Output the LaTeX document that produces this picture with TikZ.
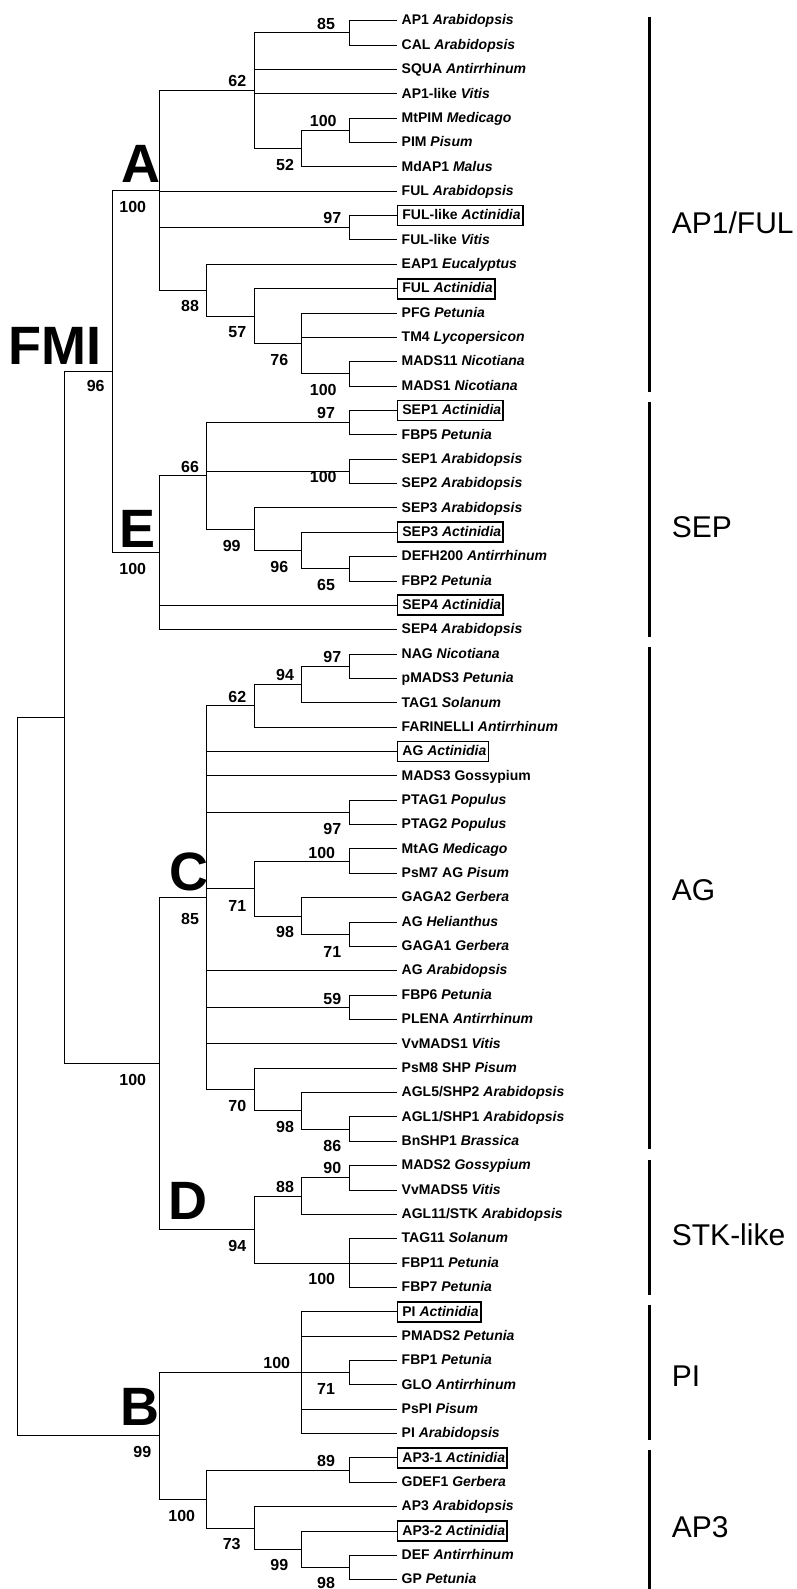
\documentclass[tikz,border=0pt]{standalone}
\usepackage{fontspec}
\setmainfont{Liberation Sans}
\tikzstyle{leaf} = [anchor=west, inner xsep=2pt, inner ysep=2.25pt, text height=12pt, text depth=3.5pt, font=\fontsize{14}{16}\selectfont\bfseries, execute at begin node={\hspace*{3pt}}]
\tikzstyle{boxed} = [leaf, draw, line width=1.8pt]
\tikzstyle{bs} = [inner sep=0pt, font=\fontsize{16}{18}\selectfont\bfseries]
\tikzstyle{clade} = [inner sep=0pt, font=\fontsize{54}{54}\selectfont\bfseries]
\tikzstyle{group} = [anchor=base west, inner sep=0pt, font=\fontsize{30}{30}\selectfont]
\tikzstyle{tree} = [line width=1pt]
\tikzstyle{bar} = [line width=3pt]
\newcommand{\species}[1]{\textit{#1}}

\begin{document}
\begin{tikzpicture}[x=1pt, y=-1pt]
  \useasboundingbox (0,0) rectangle (797,1589);

  \node[leaf] (ap1) at (396.5,20.7) {AP1 \species{Arabidopsis}};
  \node[leaf] (cal) at (396.5,45.1) {CAL \species{Arabidopsis}};
  \node[leaf] (squa) at (396.5,69.4) {SQUA \species{Antirrhinum}};
  \node[leaf] (ap1vv) at (396.5,93.8) {AP1-like \species{Vitis}};
  \node[leaf] (mtpim) at (396.5,118.1) {MtPIM \species{Medicago}};
  \node[leaf] (pim) at (396.5,142.5) {PIM \species{Pisum}};
  \node[leaf] (mdap1) at (396.5,166.9) {MdAP1 \species{Malus}};
  \node[leaf] (fulat) at (396.5,191.2) {FUL \species{Arabidopsis}};
  \node[boxed] (fullac) at (396.5,215.6) {FUL-like \species{Actinidia}};
  \node[leaf] (fullvv) at (396.5,239.9) {FUL-like \species{Vitis}};
  \node[leaf] (eap1) at (396.5,264.3) {EAP1 \species{Eucalyptus}};
  \node[boxed] (fulac) at (396.5,288.7) {FUL \species{Actinidia}};
  \node[leaf] (pfg) at (396.5,313.0) {PFG \species{Petunia}};
  \node[leaf] (tm4) at (396.5,337.4) {TM4 \species{Lycopersicon}};
  \node[leaf] (mads11) at (396.5,361.7) {MADS11 \species{Nicotiana}};
  \node[leaf] (mads1) at (396.5,386.1) {MADS1 \species{Nicotiana}};
  \node[boxed] (sep1ac) at (396.5,410.5) {SEP1 \species{Actinidia}};
  \node[leaf] (fbp5) at (396.5,434.8) {FBP5 \species{Petunia}};
  \node[leaf] (sep1at) at (396.5,459.2) {SEP1 \species{Arabidopsis}};
  \node[leaf] (sep2at) at (396.5,483.5) {SEP2 \species{Arabidopsis}};
  \node[leaf] (sep3at) at (396.5,507.9) {SEP3 \species{Arabidopsis}};
  \node[boxed] (sep3ac) at (396.5,532.3) {SEP3 \species{Actinidia}};
  \node[leaf] (defh200) at (396.5,556.6) {DEFH200 \species{Antirrhinum}};
  \node[leaf] (fbp2) at (396.5,581.0) {FBP2 \species{Petunia}};
  \node[boxed] (sep4ac) at (396.5,605.3) {SEP4 \species{Actinidia}};
  \node[leaf] (sep4at) at (396.5,629.7) {SEP4 \species{Arabidopsis}};
  \node[leaf] (nag) at (396.5,654.1) {NAG \species{Nicotiana}};
  \node[leaf] (pmads3) at (396.5,678.4) {pMADS3 \species{Petunia}};
  \node[leaf] (tag1) at (396.5,702.8) {TAG1 \species{Solanum}};
  \node[leaf] (far) at (396.5,727.1) {FARINELLI \species{Antirrhinum}};
  \node[boxed] (agac) at (396.5,751.5) {AG \species{Actinidia}};
  \node[leaf] (mads3) at (396.5,775.9) {MADS3 Gossypium};
  \node[leaf] (ptag1) at (396.5,800.2) {PTAG1 \species{Populus}};
  \node[leaf] (ptag2) at (396.5,824.6) {PTAG2 \species{Populus}};
  \node[leaf] (mtag) at (396.5,848.9) {MtAG \species{Medicago}};
  \node[leaf] (psm7) at (396.5,873.3) {PsM7 AG \species{Pisum}};
  \node[leaf] (gaga2) at (396.5,897.7) {GAGA2 \species{Gerbera}};
  \node[leaf] (aghe) at (396.5,922.0) {AG \species{Helianthus}};
  \node[leaf] (gaga1) at (396.5,946.4) {GAGA1 \species{Gerbera}};
  \node[leaf] (agat) at (396.5,970.7) {AG \species{Arabidopsis}};
  \node[leaf] (fbp6) at (396.5,995.1) {FBP6 \species{Petunia}};
  \node[leaf] (plena) at (396.5,1019.5) {PLENA \species{Antirrhinum}};
  \node[leaf] (vvmads1) at (396.5,1043.8) {VvMADS1 \species{Vitis}};
  \node[leaf] (psm8) at (396.5,1068.2) {PsM8 SHP \species{Pisum}};
  \node[leaf] (agl5) at (396.5,1092.5) {AGL5/SHP2 \species{Arabidopsis}};
  \node[leaf] (agl1) at (396.5,1116.9) {AGL1/SHP1 \species{Arabidopsis}};
  \node[leaf] (bnshp1) at (396.5,1141.3) {BnSHP1 \species{Brassica}};
  \node[leaf] (mads2) at (396.5,1165.6) {MADS2 \species{Gossypium}};
  \node[leaf] (vvmads5) at (396.5,1190.0) {VvMADS5 \species{Vitis}};
  \node[leaf] (agl11) at (396.5,1214.3) {AGL11/STK \species{Arabidopsis}};
  \node[leaf] (tag11) at (396.5,1238.7) {TAG11 \species{Solanum}};
  \node[leaf] (fbp11) at (396.5,1263.1) {FBP11 \species{Petunia}};
  \node[leaf] (fbp7) at (396.5,1287.4) {FBP7 \species{Petunia}};
  \node[boxed] (piac) at (396.5,1311.8) {PI \species{Actinidia}};
  \node[leaf] (pmads2) at (396.5,1336.1) {PMADS2 \species{Petunia}};
  \node[leaf] (fbp1) at (396.5,1360.5) {FBP1 \species{Petunia}};
  \node[leaf] (glo) at (396.5,1384.9) {GLO \species{Antirrhinum}};
  \node[leaf] (pspi) at (396.5,1409.2) {PsPI \species{Pisum}};
  \node[leaf] (piat) at (396.5,1433.6) {PI \species{Arabidopsis}};
  \node[boxed] (ap31ac) at (396.5,1457.9) {AP3-1 \species{Actinidia}};
  \node[leaf] (gdef1) at (396.5,1482.3) {GDEF1 \species{Gerbera}};
  \node[leaf] (ap3at) at (396.5,1506.7) {AP3 \species{Arabidopsis}};
  \node[boxed] (ap32ac) at (396.5,1531.0) {AP3-2 \species{Actinidia}};
  \node[leaf] (def) at (396.5,1555.4) {DEF \species{Antirrhinum}};
  \node[leaf] (gp) at (396.5,1579.7) {GP \species{Petunia}};

  \coordinate (a85) at (349.1,32.9);
  \coordinate (a100) at (349.1,130.3);
  \coordinate (a52) at (301.7,148.6);
  \coordinate (a62) at (254.3,90.8);
  \coordinate (a97) at (349.1,227.8);
  \coordinate (a100b) at (349.1,373.9);
  \coordinate (a76) at (301.7,343.5);
  \coordinate (a57) at (254.3,316.1);
  \coordinate (a88) at (206.9,290.2);
  \coordinate (cA) at (159.5,190.5);
  \coordinate (e97) at (349.1,422.6);
  \coordinate (e100) at (349.1,471.4);
  \coordinate (e65) at (349.1,568.8);
  \coordinate (e96) at (301.7,550.5);
  \coordinate (e99) at (254.3,529.2);
  \coordinate (e66) at (206.9,475.9);
  \coordinate (cE) at (159.5,552.8);
  \coordinate (fmi) at (112.1,371.7);
  \coordinate (c97) at (349.1,666.2);
  \coordinate (c94) at (301.7,684.5);
  \coordinate (c62) at (254.3,705.8);
  \coordinate (c97b) at (349.1,812.4);
  \coordinate (c100) at (349.1,861.1);
  \coordinate (c71b) at (349.1,934.2);
  \coordinate (c98) at (301.7,916.0);
  \coordinate (c71) at (254.3,888.6);
  \coordinate (c59) at (349.1,1007.3);
  \coordinate (c86) at (349.1,1129.1);
  \coordinate (c98b) at (301.7,1110.8);
  \coordinate (c70) at (254.3,1089.5);
  \coordinate (cC) at (206.9,897.7);
  \coordinate (d90) at (349.1,1177.8);
  \coordinate (d88) at (301.7,1196.1);
  \coordinate (d100) at (349.1,1263.1);
  \coordinate (cD) at (254.3,1229.6);
  \coordinate (cCD) at (159.5,1063.7);
  \coordinate (fc) at (64.7,717.7);
  \coordinate (b71) at (349.1,1372.7);
  \coordinate (b100) at (301.7,1372.7);
  \coordinate (b89) at (349.1,1470.1);
  \coordinate (b98) at (349.1,1567.6);
  \coordinate (b99) at (301.7,1549.3);
  \coordinate (b73) at (254.3,1528.0);
  \coordinate (b100b) at (206.9,1499.1);
  \coordinate (cB) at (159.5,1435.9);
  \coordinate (root) at (17.3,1076.8);

  \draw[tree] (root) |- (fc) (root) |- (cB);
  \draw[tree] (fc) |- (fmi) (fc) |- (cCD);
  \draw[tree] (fmi) |- (cA) (fmi) |- (cE);
  \draw[tree] (cA) |- (a62) (cA) |- (fulat) (cA) |- (a97) (cA) |- (a88);
  \draw[tree] (a62) |- (a85) (a62) |- (squa) (a62) |- (ap1vv) (a62) |- (a52);
  \draw[tree] (a85) |- (ap1) (a85) |- (cal);
  \draw[tree] (a52) |- (a100) (a52) |- (mdap1);
  \draw[tree] (a100) |- (mtpim) (a100) |- (pim);
  \draw[tree] (a97) |- (fullac) (a97) |- (fullvv);
  \draw[tree] (a88) |- (eap1) (a88) |- (a57);
  \draw[tree] (a57) |- (fulac) (a57) |- (a76);
  \draw[tree] (a76) |- (pfg) (a76) |- (tm4) (a76) |- (a100b);
  \draw[tree] (a100b) |- (mads11) (a100b) |- (mads1);
  \draw[tree] (cE) |- (e66) (cE) |- (sep4ac) (cE) |- (sep4at);
  \draw[tree] (e66) |- (e97) (e66) |- (e100) (e66) |- (e99);
  \draw[tree] (e97) |- (sep1ac) (e97) |- (fbp5);
  \draw[tree] (e100) |- (sep1at) (e100) |- (sep2at);
  \draw[tree] (e99) |- (sep3at) (e99) |- (e96);
  \draw[tree] (e96) |- (sep3ac) (e96) |- (e65);
  \draw[tree] (e65) |- (defh200) (e65) |- (fbp2);
  \draw[tree] (cCD) |- (cC) (cCD) |- (cD);
  \draw[tree] (cC) |- (c62) (cC) |- (agac) (cC) |- (mads3) (cC) |- (c97b) (cC) |- (c71)
    (cC) |- (agat) (cC) |- (c59) (cC) |- (vvmads1) (cC) |- (c70);
  \draw[tree] (c62) |- (c94) (c62) |- (far);
  \draw[tree] (c94) |- (c97) (c94) |- (tag1);
  \draw[tree] (c97) |- (nag) (c97) |- (pmads3);
  \draw[tree] (c97b) |- (ptag1) (c97b) |- (ptag2);
  \draw[tree] (c71) |- (c100) (c71) |- (c98);
  \draw[tree] (c100) |- (mtag) (c100) |- (psm7);
  \draw[tree] (c98) |- (gaga2) (c98) |- (c71b);
  \draw[tree] (c71b) |- (aghe) (c71b) |- (gaga1);
  \draw[tree] (c59) |- (fbp6) (c59) |- (plena);
  \draw[tree] (c70) |- (psm8) (c70) |- (c98b);
  \draw[tree] (c98b) |- (agl5) (c98b) |- (c86);
  \draw[tree] (c86) |- (agl1) (c86) |- (bnshp1);
  \draw[tree] (cD) |- (d88) (cD) |- (d100);
  \draw[tree] (d88) |- (d90) (d88) |- (agl11);
  \draw[tree] (d90) |- (mads2) (d90) |- (vvmads5);
  \draw[tree] (d100) |- (tag11) (d100) |- (fbp11) (d100) |- (fbp7);
  \draw[tree] (cB) |- (b100) (cB) |- (b100b);
  \draw[tree] (b100) |- (piac) (b100) |- (pmads2) (b100) |- (b71) (b100) |- (pspi) (b100) |- (piat);
  \draw[tree] (b71) |- (fbp1) (b71) |- (glo);
  \draw[tree] (b100b) |- (b89) (b100b) |- (b73);
  \draw[tree] (b89) |- (ap31ac) (b89) |- (gdef1);
  \draw[tree] (b73) |- (ap3at) (b73) |- (b99);
  \draw[tree] (b99) |- (ap32ac) (b99) |- (b98);
  \draw[tree] (b98) |- (def) (b98) |- (gp);

  \node[bs] (sa85) at (326,24) {85};
  \node[bs] (sa62) at (237.3,81) {62};
  \node[bs] (sa100) at (323.3,120.7) {100};
  \node[bs] (sa52) at (285,165) {52};
  \node[bs] (sa97) at (332.3,218.3) {97};
  \node[bs] (sa88) at (190,306) {88};
  \node[bs] (sa57) at (237.3,332.3) {57};
  \node[bs] (sa76) at (279.3,360) {76};
  \node[bs] (sa100b) at (323.3,390) {100};
  \node[bs] (scA) at (132.7,207.3) {100};
  \node[bs] (sfmi) at (95.7,386) {96};
  \node[bs] (se97) at (326,413.3) {97};
  \node[bs] (se66) at (190,467.3) {66};
  \node[bs] (se100) at (323.3,477.3) {100};
  \node[bs] (se99) at (231.7,546) {99};
  \node[bs] (se96) at (279.3,566.7) {96};
  \node[bs] (se65) at (326,585) {65};
  \node[bs] (scE) at (132.7,569.3) {100};
  \node[bs] (sc97) at (332.3,656.7) {97};
  \node[bs] (sc94) at (285,675) {94};
  \node[bs] (sc62) at (237.3,697.3) {62};
  \node[bs] (sc97b) at (332.3,829.3) {97};
  \node[bs] (sc100) at (321.7,852.7) {100};
  \node[bs] (sc71) at (237.3,905.7) {71};
  \node[bs] (scC) at (190,919) {85};
  \node[bs] (sc98) at (285,932.3) {98};
  \node[bs] (sc71b) at (332.3,951.7) {71};
  \node[bs] (sc59) at (332.3,999.3) {59};
  \node[bs] (scCD) at (132.7,1080) {100};
  \node[bs] (sc70) at (237.3,1106) {70};
  \node[bs] (sc98b) at (285,1127.3) {98};
  \node[bs] (sc86) at (332.3,1146) {86};
  \node[bs] (sd90) at (332.3,1168.3) {90};
  \node[bs] (sd88) at (285,1186.7) {88};
  \node[bs] (scD) at (237.3,1246) {94};
  \node[bs] (sd100) at (321.7,1279.3) {100};
  \node[bs] (sb100) at (276.7,1363.3) {100};
  \node[bs] (sb71) at (326,1389.3) {71};
  \node[bs] (scB) at (142.3,1451.7) {99};
  \node[bs] (sb89) at (326,1461) {89};
  \node[bs] (sb100b) at (181.7,1516) {100};
  \node[bs] (sb73) at (231.7,1544) {73};
  \node[bs] (sb99) at (279.3,1565) {99};
  \node[bs] (sb98) at (326,1583.3) {98};

  \node[clade] (lfmi) at (55,346.3) {FMI};
  \node[clade] (lA) at (141,163.7) {A};
  \node[clade] (lE) at (138,528.7) {E};
  \node[clade] (lC) at (189,872.2) {C};
  \node[clade] (lD) at (188.3,1201.3) {D};
  \node[clade] (lB) at (139.7,1407.3) {B};

  \draw[bar] (649.3,16.7) -- (649.3,392);
  \draw[bar] (649.3,402) -- (649.3,637);
  \draw[bar] (649.3,647) -- (649.3,1149);
  \draw[bar] (649.3,1160) -- (649.3,1294.6);
  \draw[bar] (649.3,1304.6) -- (649.3,1440);
  \draw[bar] (649.3,1450) -- (649.3,1589);

  \node[group] (gap1) at (671.7,233.3) {AP1/FUL};
  \node[group] (gsep) at (671.7,537) {SEP};
  \node[group] (gag) at (671.7,900) {AG};
  \node[group] (gstk) at (671.7,1245) {STK-like};
  \node[group] (gpi) at (671.7,1386.7) {PI};
  \node[group] (gap3) at (671.7,1537.3) {AP3};
\end{tikzpicture}
\end{document}
